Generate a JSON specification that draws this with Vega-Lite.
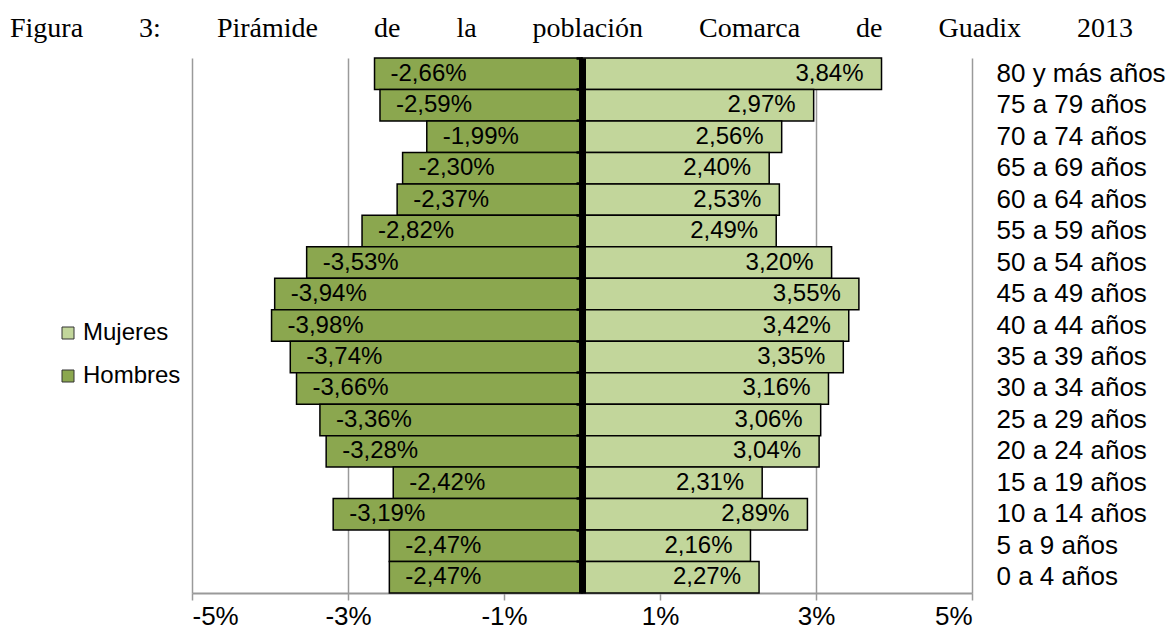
{
  "$schema": "https://vega.github.io/schema/vega-lite/v6.json",
  "width": 780,
  "height": 535,
  "autosize": {"type": "none"},
  "padding": {"left": 192, "top": 58, "right": 198, "bottom": 42},
  "background": "white",
  "title": {
    "text": "Figura\u00a0\u00a0\u00a0\u00a0\u00a0\u00a0\u00a0\u00a03:\u00a0\u00a0\u00a0\u00a0\u00a0\u00a0\u00a0\u00a0Pirámide\u00a0\u00a0\u00a0\u00a0\u00a0\u00a0\u00a0\u00a0de\u00a0\u00a0\u00a0\u00a0\u00a0\u00a0\u00a0\u00a0la\u00a0\u00a0\u00a0\u00a0\u00a0\u00a0\u00a0\u00a0población\u00a0\u00a0\u00a0\u00a0\u00a0\u00a0\u00a0\u00a0Comarca\u00a0\u00a0\u00a0\u00a0\u00a0\u00a0\u00a0\u00a0de\u00a0\u00a0\u00a0\u00a0\u00a0\u00a0\u00a0\u00a0Guadix\u00a0\u00a0\u00a0\u00a0\u00a0\u00a0\u00a0\u00a02013",
    "anchor": "start",
    "frame": "group",
    "dx": -182,
    "offset": -8,
    "baseline": "alphabetic",
    "font": "Liberation Serif",
    "fontSize": 28,
    "fontWeight": "normal",
    "color": "black"
  },
  "config": {
    "view": {"stroke": null},
    "locale": {
      "number": {"decimal": ",", "thousands": ".", "grouping": [3], "currency": ["", " €"], "minus": "-"}
    },
    "axis": {"labelFont": "Liberation Sans", "labelColor": "black", "labelFontSize": 24, "titleFont": "Liberation Sans"},
    "legend": {"labelFont": "Liberation Sans", "labelColor": "black"}
  },
  "data": {
    "values": [
      {"edad": "80 y más años", "sexo": "Hombres", "pct": -0.0266},
      {"edad": "80 y más años", "sexo": "Mujeres", "pct": 0.0384},
      {"edad": "75 a 79 años", "sexo": "Hombres", "pct": -0.0259},
      {"edad": "75 a 79 años", "sexo": "Mujeres", "pct": 0.0297},
      {"edad": "70 a 74 años", "sexo": "Hombres", "pct": -0.0199},
      {"edad": "70 a 74 años", "sexo": "Mujeres", "pct": 0.0256},
      {"edad": "65 a 69 años", "sexo": "Hombres", "pct": -0.0230},
      {"edad": "65 a 69 años", "sexo": "Mujeres", "pct": 0.0240},
      {"edad": "60 a 64 años", "sexo": "Hombres", "pct": -0.0237},
      {"edad": "60 a 64 años", "sexo": "Mujeres", "pct": 0.0253},
      {"edad": "55 a 59 años", "sexo": "Hombres", "pct": -0.0282},
      {"edad": "55 a 59 años", "sexo": "Mujeres", "pct": 0.0249},
      {"edad": "50 a 54 años", "sexo": "Hombres", "pct": -0.0353},
      {"edad": "50 a 54 años", "sexo": "Mujeres", "pct": 0.0320},
      {"edad": "45 a 49 años", "sexo": "Hombres", "pct": -0.0394},
      {"edad": "45 a 49 años", "sexo": "Mujeres", "pct": 0.0355},
      {"edad": "40 a 44 años", "sexo": "Hombres", "pct": -0.0398},
      {"edad": "40 a 44 años", "sexo": "Mujeres", "pct": 0.0342},
      {"edad": "35 a 39 años", "sexo": "Hombres", "pct": -0.0374},
      {"edad": "35 a 39 años", "sexo": "Mujeres", "pct": 0.0335},
      {"edad": "30 a 34 años", "sexo": "Hombres", "pct": -0.0366},
      {"edad": "30 a 34 años", "sexo": "Mujeres", "pct": 0.0316},
      {"edad": "25 a 29 años", "sexo": "Hombres", "pct": -0.0336},
      {"edad": "25 a 29 años", "sexo": "Mujeres", "pct": 0.0306},
      {"edad": "20 a 24 años", "sexo": "Hombres", "pct": -0.0328},
      {"edad": "20 a 24 años", "sexo": "Mujeres", "pct": 0.0304},
      {"edad": "15 a 19 años", "sexo": "Hombres", "pct": -0.0242},
      {"edad": "15 a 19 años", "sexo": "Mujeres", "pct": 0.0231},
      {"edad": "10 a 14 años", "sexo": "Hombres", "pct": -0.0319},
      {"edad": "10 a 14 años", "sexo": "Mujeres", "pct": 0.0289},
      {"edad": "5 a 9 años", "sexo": "Hombres", "pct": -0.0247},
      {"edad": "5 a 9 años", "sexo": "Mujeres", "pct": 0.0216},
      {"edad": "0 a 4 años", "sexo": "Hombres", "pct": -0.0247},
      {"edad": "0 a 4 años", "sexo": "Mujeres", "pct": 0.0227}
    ]
  },
  "encoding": {
    "x": {
      "field": "pct",
      "type": "quantitative",
      "scale": {"domain": [-0.05, 0.05], "nice": false, "zero": false},
      "axis": {
        "values": [-0.05, -0.03, -0.01, 0.01, 0.03, 0.05],
        "format": ".0%",
        "title": null,
        "grid": true,
        "gridColor": "#9a9a9a",
        "gridWidth": 1.5,
        "domainColor": "#9a9a9a",
        "domainWidth": 2,
        "tickColor": "#9a9a9a",
        "tickWidth": 1.5,
        "tickSize": 7,
        "labelPadding": 3,
        "labelFontSize": 26
      }
    }
  },
  "resolve": {"axis": {"y": "independent"}},
  "layer": [
    {
      "mark": {"type": "bar", "stroke": "black", "strokeWidth": 1.5},
      "encoding": {
        "y": {
          "field": "edad",
          "type": "nominal",
          "sort": ["80 y más años", "75 a 79 años", "70 a 74 años", "65 a 69 años", "60 a 64 años", "55 a 59 años", "50 a 54 años", "45 a 49 años", "40 a 44 años", "35 a 39 años", "30 a 34 años", "25 a 29 años", "20 a 24 años", "15 a 19 años", "10 a 14 años", "5 a 9 años", "0 a 4 años"],
          "scale": {"paddingInner": 0, "paddingOuter": 0},
          "axis": {
            "orient": "right",
            "title": null,
            "ticks": false,
            "tickSize": 0,
            "domain": false,
            "grid": false,
            "labelAlign": "left",
            "labelPadding": 24,
            "labelFontSize": 26
          }
        },
        "color": {
          "field": "sexo",
          "type": "nominal",
          "scale": {"domain": ["Mujeres", "Hombres"], "range": ["#C2D69B", "#8BA74F"]},
          "legend": {
            "title": null,
            "orient": "none",
            "legendX": -136,
            "legendY": 263,
            "symbolType": "square",
            "symbolSize": 144,
            "symbolStrokeColor": "#333333",
            "symbolStrokeWidth": 1,
            "labelFontSize": 24,
            "labelOffset": 3,
            "rowPadding": 19
          }
        }
      }
    },
    {
      "transform": [{"filter": "datum.sexo === 'Hombres'"}],
      "mark": {"type": "text", "align": "left", "baseline": "middle", "dx": 16, "font": "Liberation Sans", "fontSize": 24, "color": "black"},
      "encoding": {
        "y": {
          "field": "edad",
          "type": "nominal",
          "sort": ["80 y más años", "75 a 79 años", "70 a 74 años", "65 a 69 años", "60 a 64 años", "55 a 59 años", "50 a 54 años", "45 a 49 años", "40 a 44 años", "35 a 39 años", "30 a 34 años", "25 a 29 años", "20 a 24 años", "15 a 19 años", "10 a 14 años", "5 a 9 años", "0 a 4 años"],
          "axis": null
        },
        "text": {"field": "pct", "type": "quantitative", "format": ".2%"}
      }
    },
    {
      "transform": [{"filter": "datum.sexo === 'Mujeres'"}],
      "mark": {"type": "text", "align": "right", "baseline": "middle", "dx": -18, "font": "Liberation Sans", "fontSize": 24, "color": "black"},
      "encoding": {
        "y": {
          "field": "edad",
          "type": "nominal",
          "sort": ["80 y más años", "75 a 79 años", "70 a 74 años", "65 a 69 años", "60 a 64 años", "55 a 59 años", "50 a 54 años", "45 a 49 años", "40 a 44 años", "35 a 39 años", "30 a 34 años", "25 a 29 años", "20 a 24 años", "15 a 19 años", "10 a 14 años", "5 a 9 años", "0 a 4 años"],
          "axis": {
            "orient": "left",
            "offset": -390,
            "title": null,
            "labels": false,
            "grid": false,
            "domainColor": "black",
            "domainWidth": 7,
            "tickColor": "black",
            "tickWidth": 2.5,
            "tickSize": 6,
            "bandPosition": 0,
            "zindex": 2
          }
        },
        "text": {"field": "pct", "type": "quantitative", "format": ".2%"}
      }
    }
  ]
}
